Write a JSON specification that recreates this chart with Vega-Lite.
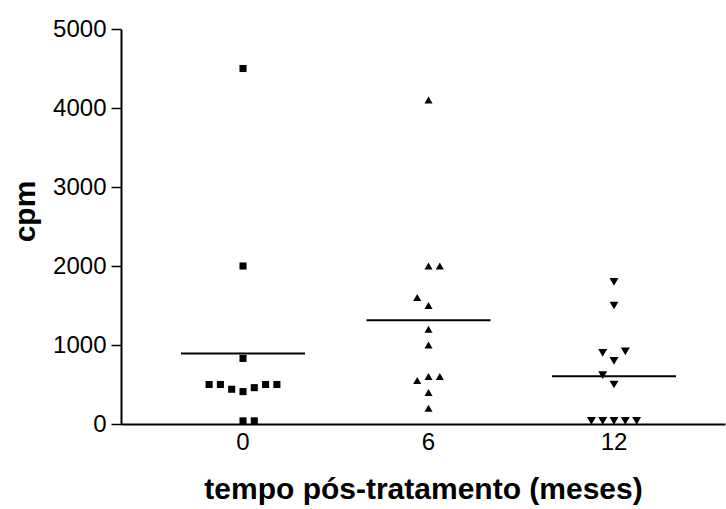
{
  "$schema": "https://vega.github.io/schema/vega-lite/v6.json",
  "autosize": "none",
  "width": 604,
  "height": 395,
  "padding": {"left": 121, "top": 29, "right": 1, "bottom": 85},
  "background": "white",
  "config": {
    "view": {"stroke": null},
    "font": "Liberation Sans",
    "axis": {
      "domainColor": "black",
      "domainWidth": 2,
      "tickColor": "black",
      "tickWidth": 1.5,
      "labelColor": "black",
      "labelFont": "Liberation Sans",
      "labelFontSize": 24,
      "titleColor": "black",
      "titleFont": "Liberation Sans",
      "titleFontSize": 30,
      "titleFontWeight": "bold",
      "grid": false
    }
  },
  "data": {
    "values": [
      {"tempo": "0", "cpm": 4500, "slot": 0},
      {"tempo": "0", "cpm": 2000, "slot": 0},
      {"tempo": "0", "cpm": 830, "slot": 0},
      {"tempo": "0", "cpm": 500, "slot": -3},
      {"tempo": "0", "cpm": 500, "slot": -2},
      {"tempo": "0", "cpm": 440, "slot": -1},
      {"tempo": "0", "cpm": 410, "slot": 0},
      {"tempo": "0", "cpm": 460, "slot": 1},
      {"tempo": "0", "cpm": 500, "slot": 2},
      {"tempo": "0", "cpm": 500, "slot": 3},
      {"tempo": "0", "cpm": 40, "slot": 0},
      {"tempo": "0", "cpm": 40, "slot": 1},
      {"tempo": "6", "cpm": 4100, "slot": 0},
      {"tempo": "6", "cpm": 2000, "slot": 0},
      {"tempo": "6", "cpm": 2000, "slot": 1},
      {"tempo": "6", "cpm": 1600, "slot": -1},
      {"tempo": "6", "cpm": 1500, "slot": 0},
      {"tempo": "6", "cpm": 1200, "slot": 0},
      {"tempo": "6", "cpm": 1000, "slot": 0},
      {"tempo": "6", "cpm": 550, "slot": -1},
      {"tempo": "6", "cpm": 600, "slot": 0},
      {"tempo": "6", "cpm": 600, "slot": 1},
      {"tempo": "6", "cpm": 400, "slot": 0},
      {"tempo": "6", "cpm": 200, "slot": 0},
      {"tempo": "12", "cpm": 1800, "slot": 0},
      {"tempo": "12", "cpm": 1500, "slot": 0},
      {"tempo": "12", "cpm": 900, "slot": -1},
      {"tempo": "12", "cpm": 920, "slot": 1},
      {"tempo": "12", "cpm": 800, "slot": 0},
      {"tempo": "12", "cpm": 620, "slot": -1},
      {"tempo": "12", "cpm": 500, "slot": 0},
      {"tempo": "12", "cpm": 40, "slot": -2},
      {"tempo": "12", "cpm": 40, "slot": -1},
      {"tempo": "12", "cpm": 40, "slot": 0},
      {"tempo": "12", "cpm": 40, "slot": 1},
      {"tempo": "12", "cpm": 40, "slot": 2}
    ]
  },
  "encoding": {
    "x": {
      "field": "tempo",
      "type": "ordinal",
      "sort": ["0", "6", "12"],
      "scale": {"domain": ["0", "6", "12"], "paddingInner": 0, "paddingOuter": 0.128, "align": 0.616},
      "axis": {"title": "tempo pós-tratamento (meses)", "labelAngle": 0, "ticks": false, "labelPadding": 6, "titlePadding": 20}
    },
    "y": {
      "field": "cpm",
      "type": "quantitative",
      "scale": {"domain": [0, 5000], "nice": false, "zero": true},
      "axis": {"title": "cpm", "format": "d", "values": [0, 1000, 2000, 3000, 4000, 5000], "tickSize": 10, "labelPadding": 5, "titlePadding": 12, "titleY": 182}
    }
  },
  "layer": [
    {
      "mark": {"type": "point", "filled": true, "opacity": 1, "color": "black"},
      "encoding": {
        "xOffset": {"field": "slot", "type": "quantitative", "scale": {"domain": [-8, 8], "range": [2.35, 183.15]}},
        "shape": {
          "field": "tempo",
          "type": "nominal",
          "scale": {"domain": ["0", "6", "12"], "range": ["square", "triangle-up", "triangle-down"]},
          "legend": null
        },
        "size": {
          "field": "tempo",
          "type": "ordinal",
          "scale": {"domain": ["0", "6", "12"], "range": [50, 80, 80]},
          "legend": null
        }
      }
    },
    {
      "mark": {"type": "tick", "color": "black", "size": 124, "thickness": 2, "opacity": 1},
      "encoding": {
        "y": {"aggregate": "mean", "field": "cpm", "type": "quantitative"}
      }
    }
  ]
}
